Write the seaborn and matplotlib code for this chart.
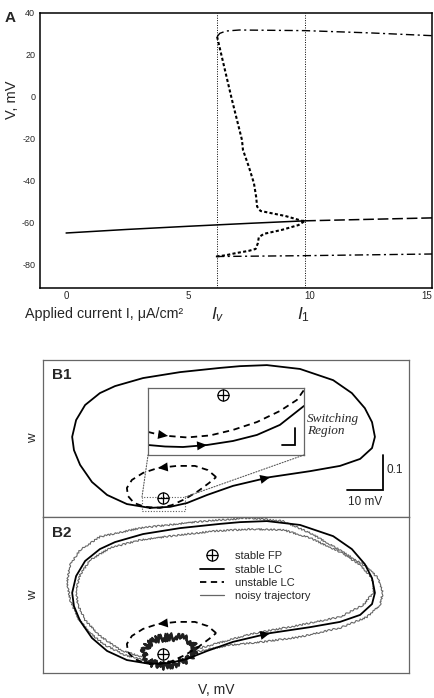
import matplotlib
matplotlib.use("Agg")
import matplotlib.pyplot as plt
import seaborn as sns
from matplotlib.lines import Line2D
from matplotlib.patches import Rectangle, ConnectionPatch

# ---- panel A: V vs applied current ----
I_v = 6.2
I_1 = 9.8

rest_I = [0, 2.5, 5, 7.5, 9.8]
rest_V = [-64.8, -63.1, -61.6, -60.2, -59.0]

rest_unst_I = [9.8, 12.4, 15]
rest_unst_V = [-59.0, -58.3, -57.6]

lc_max_I = [6.19, 6.3, 6.55, 7.1, 9.8, 12.5, 15]
lc_max_V = [28.7, 30.3, 31.4, 31.9, 31.6, 30.5, 29.2]

lc_min_I = [6.14, 9.8, 15]
lc_min_V = [-76.0, -75.6, -74.8]

ulc_I = [6.19, 6.48, 6.8, 7.21, 7.25, 7.49, 7.7, 7.79, 7.83, 7.97, 8.43, 8.99,
         9.67, 9.8, 9.53, 8.85, 8.11, 7.9, 7.86, 7.77, 7.49, 6.95, 6.55, 6.14]
ulc_V = [28.7, 14.4, -1.4, -20.5, -25.2, -33.2, -41.1, -47.5, -52.2, -54.3, -55.4, -56.7,
         -59.0, -59.0, -61.0, -63.3, -65.2, -66.8, -69.7, -72.4, -73.3, -74.4, -75.4, -76.0]

# ---- panel B: phase plane (V, w) ----
stable_V = [-45.3, -39.7, -35.0, -29.4, -22.2, -11.9, -0.8, 7.5, 13.1, 16.4, 17.2, 16.4,
            14.4, 10.8, 5.6, -3.6, -12.8, -20.3, -25.8, -36.9, -47.2, -55.0, -59.2, -63.3,
            -65.8, -66.9, -66.4, -64.7, -61.4, -57.2, -51.7, -45.3]
stable_w = [0.026, 0.029, 0.040, 0.063, 0.089, 0.114, 0.131, 0.146, 0.166, 0.197, 0.229, 0.271,
            0.311, 0.354, 0.391, 0.423, 0.434, 0.431, 0.426, 0.414, 0.397, 0.374, 0.354, 0.320,
            0.277, 0.229, 0.191, 0.149, 0.100, 0.063, 0.037, 0.026]

unstable_V = [-26.9, -29.2, -32.8, -37.8, -43.1, -47.2, -50.3, -51.7, -51.4, -49.7, -46.7,
              -42.5, -39.2, -35.6, -31.9, -28.9, -26.9]
unstable_w = [0.114, 0.134, 0.146, 0.146, 0.140, 0.126, 0.106, 0.083, 0.060, 0.040, 0.029,
              0.026, 0.034, 0.051, 0.074, 0.097, 0.114]

fp_V = -41.7
fp_w = 0.053

# zoomed view of the switching region
zoom_dash_V = [-47.5, -46.73, -45.96, -44.5, -42.73, -40.96, -39.12, -37.35, -36.04, -35.5]
zoom_dash_w = [0.0309, 0.0294, 0.0285, 0.0276, 0.0288, 0.0321, 0.0368, 0.0434, 0.0500, 0.0559]
zoom_solid_V = [-47.5, -46.19, -44.81, -42.96, -40.96, -39.12, -37.35, -35.5]
zoom_solid_w = [0.0231, 0.0222, 0.0219, 0.0231, 0.0255, 0.0291, 0.0351, 0.0464]
zoom_xlim = (-47.5, -35.5)
zoom_ylim = (0.01714, 0.05714)

# noisy trajectory (B2)
noisy1_V = [-32.8, -23.1, -13.9, -3.6, 7.5, 15.0, 18.6, 19.4, 18.1, 15.0, 7.5, -0.8, -8.3,
            -17.5, -26.7, -35.0, -48.1, -59.2, -64.7, -67.5, -68.3, -67.5, -65.3, -61.9,
            -57.8, -52.2, -46.7]
noisy1_w = [0.060, 0.080, 0.089, 0.103, 0.129, 0.160, 0.194, 0.231, 0.271, 0.303, 0.351, 0.400,
            0.434, 0.443, 0.437, 0.429, 0.414, 0.389, 0.351, 0.309, 0.260, 0.209, 0.157, 0.114,
            0.080, 0.051, 0.037]
noisy2_V = [-31.4, -17.5, -3.6, 7.5, 13.9, 16.9, 16.4, 13.1, 7.5, -0.8, -8.3, -17.5, -26.7,
            -35.0, -48.1, -56.4, -61.9, -64.7, -65.8, -65.3, -63.3, -59.2, -53.6, -46.7]
noisy2_w = [0.071, 0.111, 0.137, 0.160, 0.194, 0.231, 0.271, 0.309, 0.346, 0.386, 0.409, 0.411,
            0.406, 0.397, 0.380, 0.357, 0.323, 0.280, 0.237, 0.194, 0.151, 0.106, 0.066, 0.043]
blob_V = [-47.2, -46.1, -43.3, -39.7, -36.1, -33.3, -32.5, -34.2, -37.5, -41.7, -45.3, -47.2]
blob_w = [0.051, 0.080, 0.097, 0.103, 0.100, 0.086, 0.066, 0.043, 0.026, 0.020, 0.029, 0.051]

bar_V = 10      # scale bars
bar_w = 0.1
legend_labels = ["stable FP", "stable LC", "unstable LC", "noisy trajectory"]

sns.set_style("white")
plt.rcParams["font.family"] = ["Liberation Sans", "DejaVu Sans"]
plt.rcParams["axes.unicode_minus"] = False
plt.rcParams["mathtext.fontset"] = "custom"
plt.rcParams["mathtext.it"] = "Liberation Sans:italic"
plt.rcParams["mathtext.rm"] = "Liberation Sans"

DASH = (0, (3.5, 2.5))
NOISE_C = "0.4"


def curve(ax, x, y, **kw):
    sns.lineplot(x=x, y=y, sort=False, estimator=None, ax=ax, **kw)
    return ax.lines[-1]


def arrow_on(ax, x, y, i, scale=13):
    ax.annotate("", xy=(x[i + 1], y[i + 1]), xytext=(x[i], y[i]),
                arrowprops=dict(arrowstyle="-|>,head_length=0.55,head_width=0.25",
                                color="k", lw=0, mutation_scale=scale,
                                shrinkA=0, shrinkB=0))


def fp_marker(ax):
    ax.plot(fp_V, fp_w, marker="o", mfc="none", mec="k", mew=0.9, ms=8, ls="none")
    ax.plot(fp_V, fp_w, marker="+", mec="k", mew=0.9, ms=8, ls="none")


fig = plt.figure(figsize=(4.35, 6.98), dpi=100)
W, H = 435, 698

# ---------------- A ----------------
axA = fig.add_axes([40 / W, 1 - 288 / H, 392 / W, 275 / H])
for xv in (I_v, I_1):
    axA.axvline(xv, color="k", lw=0.7, linestyle=(0, (1, 1.5)))
curve(axA, rest_I, rest_V, color="k", lw=1.1)
curve(axA, rest_unst_I, rest_unst_V, color="k", lw=1.1, linestyle=(0, (7, 2.5)))
curve(axA, lc_max_I, lc_max_V, color="k", lw=1.0, linestyle=(0, (6, 2.5, 1.5, 2.5)))
curve(axA, lc_min_I, lc_min_V, color="k", lw=1.0, linestyle=(0, (6, 2.5, 1.5, 2.5)))
curve(axA, ulc_I, ulc_V, color="k", lw=1.5, linestyle=(0, (1.5, 1.1)))
axA.set_xlim(-1.07, 15.0)
axA.set_ylim(-91, 40)
axA.set_xticks([0, 5, 10, 15])
axA.set_yticks(range(-80, 41, 20))
axA.tick_params(axis="x", direction="in", length=4.5, width=1, labelsize=7, pad=2)
axA.tick_params(axis="y", direction="in", length=4, width=1, labelsize=6.5, pad=3.5)
axA.get_xticklabels()[-1].set_horizontalalignment("right")
for s in axA.spines.values():
    s.set_linewidth(1.1)
    s.set_color("k")
fig.text(10 / W, 1 - 18 / H, "A", fontsize=11, fontweight="bold", va="center", ha="center")
fig.text(12 / W, 1 - 100 / H, "V, mV", rotation=90, fontsize=10.5, ha="center", va="center")
fig.text(25 / W, 1 - 314 / H, "Applied current I, μA/cm²", fontsize=10.3, ha="left", va="center")
axA.text(I_v, -0.098, r"$I_v$", transform=axA.get_xaxis_transform(),
         fontsize=12.5, ha="center", va="center")
axA.text(I_1 - 0.05, -0.098, r"$I_1$", transform=axA.get_xaxis_transform(),
         fontsize=12.5, ha="center", va="center")

# ---------------- B ----------------
axB1 = fig.add_axes([43 / W, 1 - 517 / H, 366 / W, 157 / H])
axB2 = fig.add_axes([43 / W, 1 - 673 / H, 366 / W, 156 / H])
for ax, top in ((axB1, 0.4486), (axB2, 0.4457)):
    ax.set_xlim(-75, 26.67)
    ax.set_ylim(0, top)
    ax.set_xticks([])
    ax.set_yticks([])
    for s in ax.spines.values():
        s.set_linewidth(0.9)
        s.set_color("0.4")

# B2 noisy trajectory first, under the deterministic curves
for nv, nw in ((noisy1_V, noisy1_w), (noisy2_V, noisy2_w)):
    ln = curve(axB2, nv, nw, color=NOISE_C, lw=0.8)
    ln.set_sketch_params(0.8, 4, 2.5)
for sc, lw in ((2.5, 1.8), (4.0, 1.4)):
    ln = curve(axB2, blob_V, blob_w, color="0.12", lw=lw)
    ln.set_sketch_params(sc, 2, 5)

for ax in (axB1, axB2):
    curve(ax, stable_V, stable_w, color="k", lw=1.3)
    curve(ax, unstable_V, unstable_w, color="k", lw=1.3, linestyle=DASH)
    arrow_on(ax, stable_V, stable_w, 4)
    arrow_on(ax, unstable_V, unstable_w, 3)
    fp_marker(ax)

# inset of the switching region
axins = axB1.inset_axes([0.287, 0.395, 0.426, 0.427])
axins.set_xlim(*zoom_xlim)
axins.set_ylim(*zoom_ylim)
axins.set_xticks([])
axins.set_yticks([])
for s in axins.spines.values():
    s.set_linewidth(0.9)
    s.set_color("0.4")
curve(axins, zoom_dash_V, zoom_dash_w, color="k", lw=1.3, linestyle=DASH)
curve(axins, zoom_solid_V, zoom_solid_w, color="k", lw=1.3)
arrow_on(axins, zoom_dash_V, zoom_dash_w, 1)
arrow_on(axins, zoom_solid_V, zoom_solid_w, 2)
fp_marker(axins)
# small scale bar inside the inset (1/10 of the main one)
cx, cy = -36.19, 0.0231
axins.plot([cx - bar_V / 10, cx, cx], [cy, cy, cy + bar_w / 10], color="k", lw=1.3,
           solid_joinstyle="miter")

# dotted box around the zoomed region and its connectors to the inset
dot = dict(color="0.35", lw=0.8, linestyle=(0, (1, 1.5)))
axB1.add_patch(Rectangle((zoom_xlim[0], zoom_ylim[0]), zoom_xlim[1] - zoom_xlim[0],
                         zoom_ylim[1] - zoom_ylim[0], fill=False, **dot))
for xa, xb in ((zoom_xlim[0], 0), (zoom_xlim[1], 1)):
    fig.add_artist(ConnectionPatch(xyA=(xa, zoom_ylim[1]), coordsA=axB1.transData,
                                   xyB=(xb, 0), coordsB=axins.transAxes, **dot))

axB1.text(0.721, 0.585, "Switching\nRegion", transform=axB1.transAxes, fontsize=9.5,
          family="Liberation Serif", style="italic", ha="left", va="center", linespacing=1.0)

# main scale bar
sx, sy = 19.44, 0.077
axB1.plot([sx - bar_V, sx, sx], [sy, sy, sy + bar_w], color="k", lw=1.3, solid_joinstyle="miter")
axB1.text(sx + 1.0, 0.134, "0.1", fontsize=8.5, ha="left", va="center")
axB1.text(sx - bar_V / 2, 0.043, "10 mV", fontsize=8.5, ha="center", va="center")

axB1.text(0.025, 0.95, "B1", transform=axB1.transAxes, fontsize=11, fontweight="bold",
          ha="left", va="top")
axB2.text(0.025, 0.945, "B2", transform=axB2.transAxes, fontsize=11, fontweight="bold",
          ha="left", va="top")

fp_handle = (Line2D([], [], marker="o", mfc="none", mec="k", mew=0.9, ms=8, ls="none"),
             Line2D([], [], marker="+", mec="k", mew=0.9, ms=8, ls="none"))
handles = [fp_handle,
           Line2D([], [], color="k", lw=1.3),
           Line2D([], [], color="k", lw=1.3, linestyle=DASH),
           Line2D([], [], color=NOISE_C, lw=0.9)]
axB2.legend(handles, legend_labels, loc="upper left", bbox_to_anchor=(0.43, 0.78),
            frameon=False, fontsize=8, handlelength=2.1, handletextpad=1.0,
            labelspacing=0.3, borderaxespad=0, borderpad=0)

fig.text(33 / W, 1 - 438 / H, "w", rotation=90, fontsize=9.5, ha="center", va="center")
fig.text(33 / W, 1 - 595 / H, "w", rotation=90, fontsize=9.5, ha="center", va="center")
fig.text(216 / W, 1 - 690 / H, "V, mV", fontsize=10, ha="center", va="center")

fig.savefig("out.png", dpi=100)
